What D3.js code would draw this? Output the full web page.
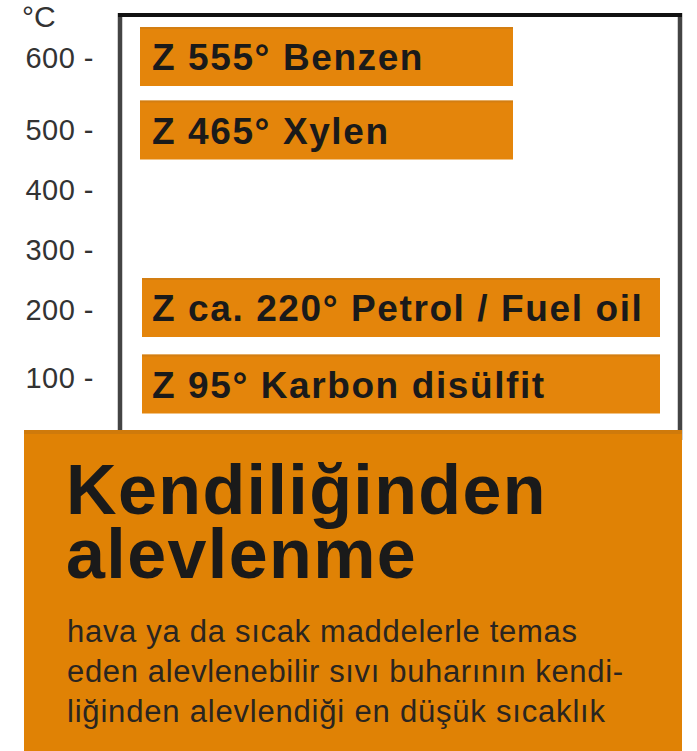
<!DOCTYPE html>
<html>
<head>
<meta charset="utf-8">
<script src="https://cdn.jsdelivr.net/npm/d3@7"></script>
<style>
  html, body { margin: 0; padding: 0; background: #ffffff; }
  svg { display: block; }
</style>
</head>
<body>
<div id="chart"></div>
<script>
// ---- data ----
const substances = ["Benzen", "Xylen", "Petrol / Fuel oil", "Karbon disülfit"];
const ignitionTemps = [555, 465, 220, 95];
const tempPrefix = ["", "", "ca. ", ""];
const tickValues = [100, 200, 300, 400, 500, 600];
const unitLabel = "°C";
const titleLines = ["Kendiliğinden", "alevlenme"];
const bodyLines = [
  "hava ya da sıcak maddelerle temas",
  "eden alevlenebilir sıvı buharının kendi-",
  "liğinden alevlendiği en düşük sıcaklık"
];

// ---- layout ----
const W = 697, H = 751;
const svg = d3.select("#chart").append("svg").attr("width", W).attr("height", H);

const orange = "#E4850B";
const boxOrange = "#E08205";

// piecewise scales (the original scale is not strictly linear)
const yTick = d3.scaleLinear().domain([100, 200, 500, 600]).range([377, 309, 129, 57.5]);
const yBar = d3.scaleLinear().domain([95, 220, 465, 555]).range([384, 307.5, 130, 56.5]);
const barH = 59;

// frame
const frame = svg.append("g");
frame.append("line").attr("x1", 120).attr("x2", 120).attr("y1", 13).attr("y2", 440)
  .attr("stroke", "#444").attr("stroke-width", 4.5);
frame.append("line").attr("x1", 680).attr("x2", 680).attr("y1", 13).attr("y2", 440)
  .attr("stroke", "#444").attr("stroke-width", 4.5);
frame.append("line").attr("x1", 118).attr("x2", 682).attr("y1", 15).attr("y2", 15)
  .attr("stroke", "#111").attr("stroke-width", 4);

// axis
const axis = d3.axisLeft(yTick).tickValues(tickValues).tickSize(0).tickPadding(0)
  .tickFormat(d => d + " -");
const gAxis = svg.append("g").attr("transform", "translate(94,0)").call(axis);
gAxis.select(".domain").remove();
gAxis.selectAll("text")
  .attr("font-family", "'Liberation Sans', Arial, sans-serif")
  .attr("font-size", 29)
  .attr("letter-spacing", 0.5)
  .attr("fill", "#333")
  .attr("dy", "0.36em");

svg.append("text").attr("x", 22).attr("y", 27)
  .attr("font-family", "'Liberation Sans', Arial, sans-serif")
  .attr("font-size", 30).attr("fill", "#333").text(unitLabel);

// bars
const rows = substances.map((s, i) => ({ name: s, t: ignitionTemps[i], pre: tempPrefix[i], i }));
const gBars = svg.append("g");
gBars.selectAll("rect").data(rows).join("rect")
  .attr("x", d => d.i < 2 ? 140 : 142)
  .attr("width", d => (d.i < 2 ? 513 : 660) - (d.i < 2 ? 140 : 142))
  .attr("y", d => yBar(d.t) - barH / 2)
  .attr("height", barH)
  .attr("fill", orange);
gBars.selectAll("line.top").data(rows).join("line").attr("class", "top")
  .attr("x1", d => d.i < 2 ? 140 : 142)
  .attr("x2", d => d.i < 2 ? 513 : 660)
  .attr("y1", d => yBar(d.t) - barH / 2 + 1)
  .attr("y2", d => yBar(d.t) - barH / 2 + 1)
  .attr("stroke", "#C97A18").attr("stroke-width", 2).attr("opacity", 0.6);
gBars.selectAll("text").data(rows).join("text")
  .attr("x", 152)
  .attr("y", d => yBar(d.t) + 13.5)
  .attr("font-family", "'Liberation Sans', Arial, sans-serif")
  .attr("font-weight", "bold")
  .attr("font-size", 37)
  .attr("letter-spacing", 1.6)
  .attr("fill", "#1a1a1a")
  .text(d => `Z ${d.pre}${d.t}° ${d.name}`);

// bottom box
svg.append("rect").attr("x", 24).attr("y", 430).attr("width", 658).attr("height", 330)
  .attr("fill", boxOrange);
svg.append("line").attr("x1", 24).attr("x2", 682).attr("y1", 432).attr("y2", 432)
  .attr("stroke", "#C8780E").attr("stroke-width", 4).attr("opacity", 0.7);

const title = svg.append("text")
  .attr("font-family", "'Liberation Sans', Arial, sans-serif")
  .attr("font-weight", "bold")
  .attr("font-size", 70)
  .attr("letter-spacing", 1.4)
  .attr("fill", "#1a1a1a");
title.selectAll("tspan").data(titleLines).join("tspan")
  .attr("x", 66)
  .attr("y", (d, i) => 514 + i * 64)
  .text(d => d);

const bodyWidths = [510, 556, 538];
svg.append("g").selectAll("text").data(bodyLines).join("text")
  .attr("x", 67)
  .attr("y", (d, i) => 642 + i * 40)
  .attr("font-family", "'Liberation Sans', Arial, sans-serif")
  .attr("font-size", 31)
  .attr("fill", "#2a2520")
  .attr("textLength", (d, i) => bodyWidths[i])
  .attr("lengthAdjust", "spacing")
  .text(d => d);
</script>
</body>
</html>
